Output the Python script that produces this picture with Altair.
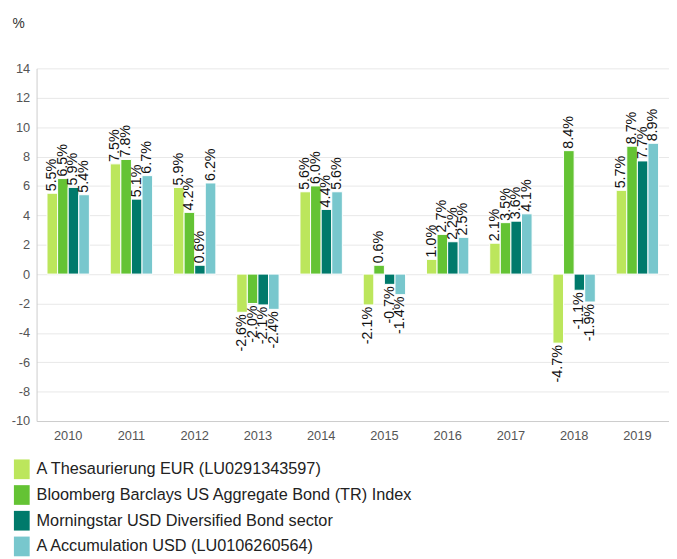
import altair as alt
import pandas as pd

years = ["2010", "2011", "2012", "2013", "2014", "2015", "2016", "2017", "2018", "2019"]
series = [
    "A Thesaurierung EUR (LU0291343597)",
    "Bloomberg Barclays US Aggregate Bond (TR) Index",
    "Morningstar USD Diversified Bond sector",
    "A Accumulation USD (LU0106260564)",
]
s1 = [5.5, 7.5, 5.9, -2.6, 5.6, -2.1, 1.0, 2.1, -4.7, 5.7]
s2 = [6.5, 7.8, 4.2, -2.0, 6.0, 0.6, 2.7, 3.5, 8.4, 8.7]
s3 = [5.9, 5.1, 0.6, -2.1, 4.4, -0.7, 2.2, 3.6, -1.1, 7.7]
s4 = [5.4, 6.7, 6.2, -2.4, 5.6, -1.4, 2.5, 4.1, -1.9, 8.9]
colors = ["#bce65c", "#64c334", "#007a6b", "#78c7cd"]
y_ticks = list(range(-10, 15, 2))

rows = []
for name, vals in zip(series, [s1, s2, s3, s4]):
    for yr, v in zip(years, vals):
        rows.append({"year": yr, "series": name, "value": v})
df = pd.DataFrame(rows)

x = alt.X("year:N", sort=years, title=None,
          scale=alt.Scale(paddingInner=0.33, paddingOuter=0.165),
          axis=alt.Axis(labelAngle=0, labelFontSize=13, labelColor="#555555",
                        labelPadding=9, ticks=False, domainColor="#cccccc",
                        labelFont="Liberation Sans"))
xo = alt.XOffset("series:N", sort=series)
y = alt.Y("value:Q", title="%",
          scale=alt.Scale(domain=[-10, 14], nice=False, zero=True),
          axis=alt.Axis(values=y_ticks, labelFontSize=13, labelColor="#555555",
                        labelPadding=7, ticks=False, domainColor="#cccccc",
                        labelOverlap=False,
                        labelExpr="'' + datum.value",
                        gridColor="#e8e8e8", titleAngle=0, titleAlign="left",
                        titleBaseline="middle", titleX=-25, titleY=-45,
                        titleFontSize=14, titleFontWeight="normal",
                        titleColor="#333333", labelFont="Liberation Sans",
                        titleFont="Liberation Sans"))
color = alt.Color("series:N", sort=series,
                  scale=alt.Scale(domain=series, range=colors),
                  legend=alt.Legend(title=None, orient="none", legendX=-25, legendY=397,
                                    direction="vertical", columns=1,
                                    symbolType="M-0.8,-1H0.8V1H-0.8Z",
                                    symbolSize=400, symbolStrokeWidth=0,
                                    labelFontSize=16.5, labelColor="#222222",
                                    labelFont="Liberation Sans",
                                    labelOffset=5, rowPadding=6.1, padding=0,
                                    labelLimit=600))

base = alt.Chart(df).encode(x=x, xOffset=xo, y=y)

bars = base.mark_bar(stroke="white", strokeWidth=1).encode(color=color)

lab = base.transform_calculate(
    label="replace(format(datum.value, '.1f'), '\u2212', '-') + '%'")
pos = lab.transform_filter("datum.value >= 0").mark_text(
    angle=270, align="left", baseline="middle", dx=2, fontSize=14.5,
    font="Liberation Sans", color="#111111").encode(text="label:N")
neg = lab.transform_filter("datum.value < 0").mark_text(
    angle=270, align="right", baseline="middle", dx=-2, fontSize=14.5,
    font="Liberation Sans", color="#111111").encode(text="label:N")

chart = alt.layer(bars, pos, neg).properties(
    width=642, height=358,
    autosize=alt.AutoSizeParams(type="none"),
    padding={"left": 29, "top": 57, "right": 0, "bottom": 150},
).configure_view(stroke=None).configure_axis(grid=True).configure_axisX(grid=False)

chart.save("out.html", embed_options={"renderer": "svg", "actions": False})
